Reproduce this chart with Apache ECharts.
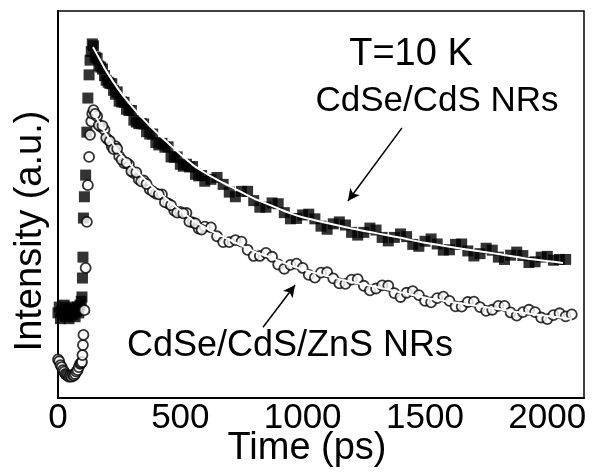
<!DOCTYPE html>
<html>
<head>
<meta charset="utf-8">
<script src="https://cdn.jsdelivr.net/npm/echarts@6/dist/echarts.min.js"></script>
<style>
  html, body { margin: 0; padding: 0; background: #fff; }
  #chart { width: 592px; height: 476px; }
</style>
</head>
<body>
<div id="chart"></div>
<script>
// time axis (ps), shared by both measured traces
const time = [
  0, 5, 10, 15, 20, 25, 30, 35, 40, 45, 50, 55, 60, 65, 70, 75, 80, 85, 90, 95,
  98, 100, 102, 104, 108, 113, 118, 122, 127, 131, 136, 140,
  145, 160, 175, 190, 205, 220, 235, 250, 270, 290, 310, 330, 350,
  375, 400, 425, 450, 475, 500, 525, 550, 575, 600, 625, 650, 675, 700,
  725, 750, 775, 800, 825, 850, 875, 900, 925, 950, 975, 1000,
  1025, 1050, 1075, 1100, 1125, 1150, 1175, 1200, 1225, 1250, 1275, 1300,
  1325, 1350, 1375, 1400, 1425, 1450, 1475, 1500, 1525, 1550, 1575, 1600,
  1625, 1650, 1675, 1700, 1725, 1750, 1775, 1800, 1825, 1850, 1875, 1900,
  1925, 1950, 1975, 2000, 2025, 2050, 2075, 2100
];

// CdSe/CdS NRs (filled squares), normalised intensity
const cdseCds = [
  0.220, 0.235, 0.205, 0.225, 0.215, 0.240, 0.210, 0.230, 0.220, 0.205,
  0.235, 0.220, 0.215, 0.230, 0.210, 0.225, 0.235, 0.220, 0.240, 0.250,
  0.261, 0.310, 0.364, 0.465, 0.520, 0.576, 0.687, 0.775, 0.835, 0.873, 0.895, 0.915,
  0.910, 0.878, 0.855, 0.833, 0.816, 0.812, 0.785, 0.767, 0.764, 0.743, 0.718, 0.709, 0.708,
  0.682, 0.660, 0.658, 0.649, 0.622, 0.604, 0.604, 0.598, 0.574, 0.560, 0.565, 0.570, 0.552, 0.532,
  0.520, 0.534, 0.534, 0.510, 0.493, 0.493, 0.504, 0.502, 0.479, 0.463, 0.464, 0.473,
  0.475, 0.463, 0.444, 0.436, 0.450, 0.455, 0.447, 0.428, 0.421, 0.428, 0.439, 0.434,
  0.415, 0.406, 0.415, 0.424, 0.417, 0.397, 0.392, 0.405, 0.411, 0.398, 0.382, 0.383,
  0.397, 0.398, 0.380, 0.367, 0.373, 0.387, 0.382, 0.364, 0.358, 0.369, 0.377, 0.368,
  0.350, 0.352, 0.364, 0.366, 0.356, 0.358, 0.358, null
];

// CdSe/CdS/ZnS NRs (open circles)
const cdseCdsZns = [
  0.100, 0.095, 0.085, 0.080, 0.072, 0.068, 0.062, 0.060, 0.058, 0.055,
  0.058, 0.055, 0.060, 0.058, 0.062, 0.068, 0.072, 0.080, 0.088, 0.090,
  0.093, 0.111, 0.137, 0.163, 0.227, 0.336, 0.455, 0.550, 0.623, 0.680, 0.715, 0.735,
  0.744, 0.728, 0.701, 0.693, 0.667, 0.650, 0.651, 0.625, 0.607, 0.603, 0.581, 0.565, 0.562,
  0.539, 0.528, 0.526, 0.503, 0.484, 0.481, 0.478, 0.454, 0.438, 0.443, 0.441, 0.418, 0.403, 0.403,
  0.408, 0.404, 0.383, 0.367, 0.367, 0.375, 0.365, 0.345, 0.334, 0.344, 0.347, 0.336,
  0.318, 0.311, 0.324, 0.325, 0.309, 0.296, 0.295, 0.306, 0.307, 0.290, 0.278, 0.283,
  0.291, 0.290, 0.271, 0.261, 0.272, 0.276, 0.266, 0.251, 0.247, 0.258, 0.262, 0.251,
  0.237, 0.236, 0.248, 0.249, 0.235, 0.225, 0.228, 0.238, 0.238, 0.221, 0.213, 0.222,
  0.228, 0.222, 0.208, 0.204, 0.214, 0.219, 0.211, 0.216
];

// extra samples in the steep early decay
const timeEarly = [152, 167, 182, 197, 212, 227, 242, 260, 280, 300, 320, 340,
  362, 387, 412, 437, 462, 487, 512, 537, 562, 587];
const cdseCdsEarly = [0.881, 0.858, 0.850, 0.821, 0.813, 0.795, 0.791, 0.765, 0.746, 0.743,
  0.713, 0.709, 0.688, 0.682, 0.654, 0.648, 0.623, 0.623, 0.599, 0.597, 0.578, 0.575];
const cdseCdsZnsEarly = [0.734, 0.705, 0.703, 0.672, 0.664, 0.643, 0.644, 0.616, 0.608, 0.586,
  0.583, 0.560, 0.553, 0.534, 0.526, 0.506, 0.498, 0.479, 0.477, 0.456, 0.451, 0.435];

// fitted decay curves (white lines)
const fitTimeCds = [143, 175, 200, 250, 300, 350, 400, 450, 500, 550, 600, 650, 700, 750, 800,
  850, 900, 950, 1000, 1100, 1200, 1300, 1400, 1500, 1600, 1700, 1800, 1900, 2000, 2064];
const fitCds = [0.907, 0.870, 0.842, 0.795, 0.755, 0.720, 0.688, 0.659, 0.630, 0.603, 0.582, 0.564,
  0.548, 0.532, 0.516, 0.503, 0.490, 0.477, 0.467, 0.452, 0.438, 0.426, 0.414, 0.401, 0.391,
  0.381, 0.372, 0.362, 0.354, 0.349];
const fitTimeZns = [143, 175, 200, 250, 300, 350, 400, 450, 500, 550, 600, 650, 700, 750, 800,
  850, 900, 950, 1000, 1100, 1200, 1300, 1400, 1500, 1600, 1700, 1800, 1900, 2000, 2100];
const fitZns = [0.739, 0.705, 0.679, 0.635, 0.600, 0.568, 0.538, 0.511, 0.485, 0.460, 0.441, 0.424,
  0.409, 0.394, 0.379, 0.367, 0.355, 0.342, 0.332, 0.315, 0.300, 0.287, 0.273, 0.259, 0.249,
  0.239, 0.230, 0.220, 0.212, 0.204];

// annotation arrows [tail, tip] in (ps, intensity)
const arrowCds = [[1406, 0.698], [1185, 0.509]];
const arrowZns = [[838, 0.183], [969, 0.292]];

const FONT = 'Liberation Sans';

function pairs(xs, ys) {
  const out = [];
  xs.forEach((x, i) => {
    if (ys[i] !== null && ys[i] !== undefined) out.push([x, ys[i]]);
  });
  return out;
}

function label(text, x, y, size, rotation) {
  return {
    type: 'text', x: x, y: y, rotation: rotation || 0,
    style: {
      text: text, font: size + 'px "' + FONT + '"', fill: '#000',
      align: 'center', verticalAlign: 'middle'
    }
  };
}

const chart = echarts.init(document.getElementById('chart'));

const option = {
  animation: false,
  backgroundColor: '#fff',
  grid: {
    left: 58, top: 11, right: 8, bottom: 78,
    show: true, borderColor: '#000', borderWidth: 1.5
  },
  xAxis: {
    type: 'value',
    min: 0, max: 2150, interval: 500,
    axisLine: { show: true, lineStyle: { color: '#000', width: 2 } },
    axisTick: { show: false },
    splitLine: { show: false },
    axisLabel: {
      color: '#000', fontSize: 35, fontFamily: FONT, margin: 3,
      showMaxLabel: false,
      formatter: v => String(v)
    }
  },
  yAxis: {
    type: 'value',
    min: 0, max: 1,
    axisLine: { show: true, lineStyle: { color: '#000', width: 2 } },
    axisTick: { show: false },
    splitLine: { show: false },
    axisLabel: { show: false }
  },
  graphic: [
    label('T=10 K', 411, 55, 38),
    label('CdSe/CdS NRs', 437, 101, 35),
    label('CdSe/CdS/ZnS NRs', 290, 346, 36),
    label('Time (ps)', 307, 449, 38),
    label('Intensity (a.u.)', 31, 231, 38, Math.PI / 2)
  ],
  series: [
    {
      name: 'CdSe/CdS NRs',
      type: 'scatter',
      symbol: 'rect',
      symbolSize: 11,
      itemStyle: { color: '#000' },
      data: pairs(time, cdseCds).concat(pairs(timeEarly, cdseCdsEarly)),
      z: 2
    },
    {
      name: 'CdSe/CdS/ZnS NRs',
      type: 'scatter',
      symbol: 'circle',
      symbolSize: 10,
      itemStyle: { color: '#fff', borderColor: '#000', borderWidth: 1.8 },
      data: pairs(time, cdseCdsZns).concat(pairs(timeEarly, cdseCdsZnsEarly)),
      z: 3
    },
    {
      name: 'fit CdSe/CdS',
      type: 'line',
      smooth: 0.3,
      showSymbol: false,
      lineStyle: { color: '#fff', width: 2 },
      data: pairs(fitTimeCds, fitCds),
      z: 4,
      markLine: {
        silent: true,
        symbol: ['none', 'arrow'],
        symbolSize: [9, 12],
        label: { show: false },
        lineStyle: { color: '#000', width: 1.5, type: 'solid' },
        data: [
          [{ coord: arrowCds[0] }, { coord: arrowCds[1] }],
          [{ coord: arrowZns[0] }, { coord: arrowZns[1] }]
        ]
      }
    },
    {
      name: 'fit CdSe/CdS/ZnS',
      type: 'line',
      smooth: 0.3,
      showSymbol: false,
      lineStyle: { color: '#fff', width: 2 },
      data: pairs(fitTimeZns, fitZns),
      z: 4
    }
  ]
};

chart.setOption(option);
</script>
</body>
</html>
